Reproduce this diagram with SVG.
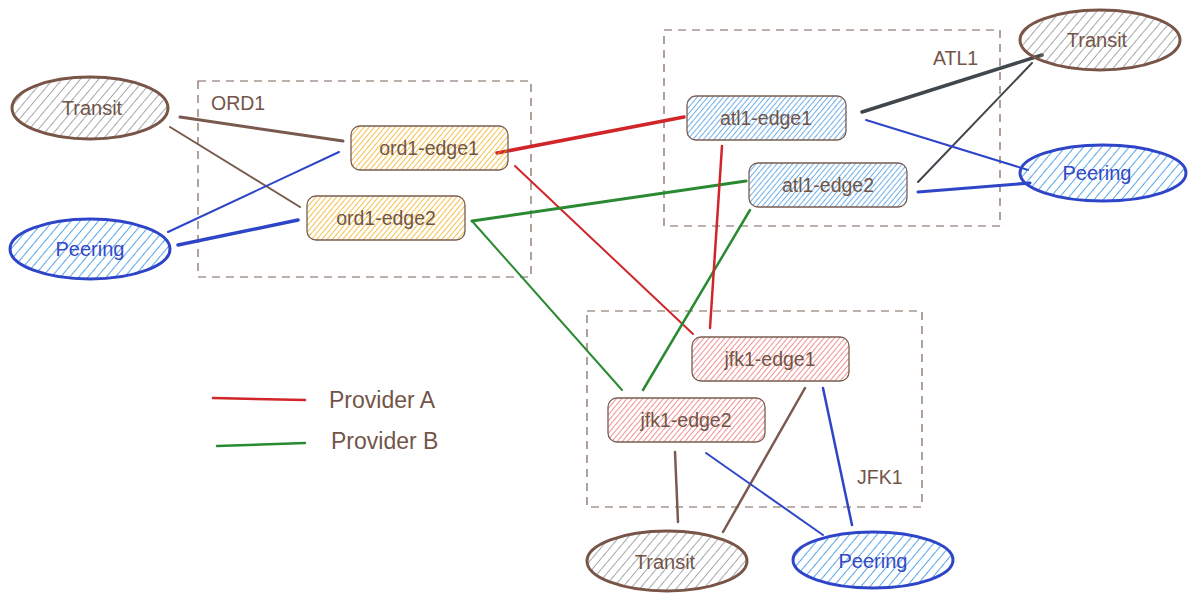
<svg xmlns="http://www.w3.org/2000/svg" width="1188" height="602" viewBox="0 0 1188 602">
<defs>
<pattern id="hy" width="4" height="4" patternUnits="userSpaceOnUse" patternTransform="rotate(40)"><line x1="0" y1="0" x2="0" y2="4" stroke="#f0a800" stroke-width="1.4"/></pattern>
<pattern id="hb" width="4" height="4" patternUnits="userSpaceOnUse" patternTransform="rotate(40)"><line x1="0" y1="0" x2="0" y2="4" stroke="#338ede" stroke-width="1.4"/></pattern>
<pattern id="hr" width="4" height="4" patternUnits="userSpaceOnUse" patternTransform="rotate(40)"><line x1="0" y1="0" x2="0" y2="4" stroke="#e85858" stroke-width="1.3"/></pattern>
<pattern id="hg" width="7" height="7" patternUnits="userSpaceOnUse" patternTransform="rotate(40)"><line x1="0" y1="0" x2="0" y2="7" stroke="#7e8286" stroke-width="1.4"/></pattern>
<pattern id="hp" width="7" height="7" patternUnits="userSpaceOnUse" patternTransform="rotate(40)"><line x1="0" y1="0" x2="0" y2="7" stroke="#1e88e5" stroke-width="1.5"/></pattern>
</defs>
<style>
text{font-family:"Liberation Sans",Arial,sans-serif;font-size:19.5px;fill:#735548;dominant-baseline:central}
.lbl{text-anchor:middle}
.el{font-size:20px}
.leg{font-size:23px}
.grp{fill:none;stroke:#7d6358;stroke-width:1.2;stroke-dasharray:8 6}
.node rect{stroke:#7a5c50;stroke-width:1.3}
.tr{fill:url(#hg);stroke:#795548;stroke-width:3}
.pe{fill:url(#hp);stroke:#2e45c8;stroke-width:3}
.pt{fill:#3349c6}
.c line{fill:none;stroke-linecap:round}
.br{stroke:#7a5a4e;stroke-width:2}
.bl{stroke:#2e45c8;stroke-width:2}
.rd{stroke:#d0262a;stroke-width:2}
.gr{stroke:#2a8a32;stroke-width:2}
.dk{stroke:#40474d;stroke-width:2}
</style>
<g id="groups">
<g id="ORD1"><rect class="grp" x="198" y="81" width="333" height="196"/><text x="211" y="103">ORD1</text></g>
<g id="ATL1"><rect class="grp" x="664" y="30" width="336" height="196"/><text x="933" y="58">ATL1</text></g>
<g id="JFK1"><rect class="grp" x="587" y="311" width="335" height="196"/><text x="857" y="477">JFK1</text></g>
</g>
<g id="connectors" class="c">
<line class="br" x1="180" y1="117" x2="343" y2="141" style="stroke-width:3"/>
<line class="br" x1="170" y1="127" x2="300" y2="207"/>
<line class="bl" x1="168" y1="232" x2="339" y2="152"/>
<line class="bl" x1="178" y1="245" x2="298" y2="220" style="stroke-width:3.5"/>
<line class="rd" x1="497" y1="153" x2="684" y2="117" style="stroke-width:3.5"/>
<line class="rd" x1="515" y1="166" x2="693" y2="334"/>
<line class="gr" x1="472" y1="221" x2="746" y2="181" style="stroke-width:3"/>
<line class="gr" x1="472" y1="221" x2="622" y2="390"/>
<line class="gr" x1="750" y1="210" x2="643" y2="390" style="stroke-width:2.5"/>
<line class="rd" x1="722" y1="146" x2="710" y2="328" style="stroke-width:2.5"/>
<line class="dk" x1="862" y1="112" x2="1042" y2="55" style="stroke-width:3.5"/>
<line class="dk" x1="918" y1="182" x2="1032" y2="63"/>
<line class="bl" x1="866" y1="120" x2="1028" y2="170"/>
<line class="bl" x1="918" y1="192" x2="1030" y2="183" style="stroke-width:3"/>
<line class="br" x1="675" y1="452" x2="678" y2="522" style="stroke-width:2.5"/>
<line class="br" x1="805" y1="388" x2="723" y2="532" style="stroke-width:2.5"/>
<line class="bl" x1="706" y1="453" x2="823" y2="535"/>
<line class="bl" x1="823" y1="388" x2="852" y2="525" style="stroke-width:2.5"/>
<line class="rd" x1="213" y1="398" x2="305" y2="400" style="stroke-width:2.5"/>
<line class="gr" x1="217" y1="446" x2="305" y2="443" style="stroke-width:2.5"/>
</g>
<g id="legend">
<text class="leg" x="329" y="400">Provider A</text>
<text class="leg" x="331" y="441">Provider B</text>
</g>
<g id="ord1-edge1" class="node"><rect x="351" y="126" width="157" height="44" rx="9" fill="url(#hy)"/><text class="lbl" x="429" y="148">ord1-edge1</text></g>
<g id="ord1-edge2" class="node"><rect x="307" y="196" width="158" height="44" rx="9" fill="url(#hy)"/><text class="lbl" x="386" y="218">ord1-edge2</text></g>
<g id="atl1-edge1" class="node"><rect x="687" y="96" width="159" height="44" rx="9" fill="url(#hb)"/><text class="lbl" x="766" y="118">atl1-edge1</text></g>
<g id="atl1-edge2" class="node"><rect x="749" y="163" width="158" height="44" rx="9" fill="url(#hb)"/><text class="lbl" x="828" y="185">atl1-edge2</text></g>
<g id="jfk1-edge1" class="node"><rect x="692" y="337" width="157" height="44" rx="9" fill="url(#hr)"/><text class="lbl" x="770" y="359">jfk1-edge1</text></g>
<g id="jfk1-edge2" class="node"><rect x="608" y="398" width="157" height="44" rx="9" fill="url(#hr)"/><text class="lbl" x="686" y="420">jfk1-edge2</text></g>
<g id="transit-ord"><ellipse class="tr" cx="90" cy="108" rx="78" ry="31"/><text class="lbl el" x="92" y="108">Transit</text></g>
<g id="peering-ord"><ellipse class="pe" cx="90" cy="249" rx="80" ry="30"/><text class="lbl el pt" x="90" y="249">Peering</text></g>
<g id="transit-atl"><ellipse class="tr" cx="1100" cy="40" rx="80" ry="30"/><text class="lbl el" x="1097" y="40">Transit</text></g>
<g id="peering-atl"><ellipse class="pe" cx="1103" cy="173" rx="83" ry="28"/><text class="lbl el pt" x="1097" y="173">Peering</text></g>
<g id="transit-jfk"><ellipse class="tr" cx="667" cy="561" rx="80" ry="30"/><text class="lbl el" x="665" y="562">Transit</text></g>
<g id="peering-jfk"><ellipse class="pe" cx="873" cy="560" rx="80" ry="28"/><text class="lbl el pt" x="873" y="561">Peering</text></g>
</svg>
